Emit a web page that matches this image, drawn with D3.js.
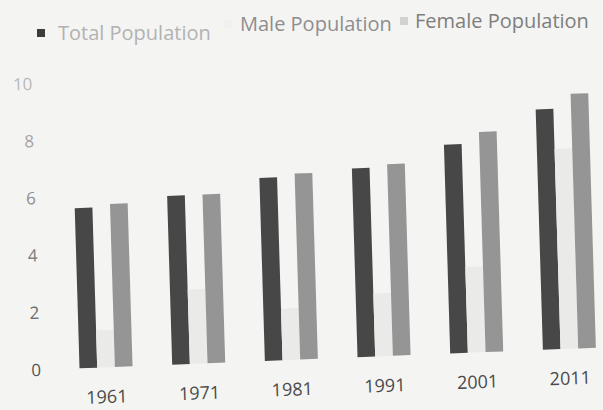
<!doctype html>
<html>
<head>
<meta charset="utf-8">
<style>
	body { margin: 0; background: #f4f4f2; }
	svg { display: block; font-family: "Open Sans", sans-serif; }
</style>
</head>
<body>
	<div class="chart"></div>

	<script src="https://d3js.org/d3.v7.min.js"></script>
	<script>
		let years = ["1961", "1971", "1981", "1991", "2001", "2011"];
		let seriesNames = ["Total Population", "Male Population", "Female Population"];
		let totalPop = [5.6, 5.9, 6.4, 6.6, 7.3, 8.4];
		let malePop = [1.3, 2.6, 1.8, 2.2, 3.0, 7.0];
		let femalePop = [5.7, 5.9, 6.5, 6.7, 7.7, 8.9];
		let yTicks = [0, 2, 4, 6, 8, 10];

		let width = 603,
			height = 410;

		let colors = {
			"Total Population": "#474747",
			"Male Population": "#eaeae8",
			"Female Population": "#959595"
		};
		let legendText = {
			"Total Population": "#b2b2b2",
			"Male Population": "#8e8e8e",
			"Female Population": "#7e7e7e"
		};
		let legendMarker = {
			"Total Population": "#3c3c3c",
			"Male Population": "#f0f0ee",
			"Female Population": "#d2d2d2"
		};

		let rows = years.map((y, i) => ({
			year: y,
			values: [totalPop[i], malePop[i], femalePop[i]]
		}));

		let svg = d3.select(".chart")
			.append("svg")
			.attr("width", width)
			.attr("height", height);

		svg.append("rect")
			.attr("width", width)
			.attr("height", height)
			.attr("fill", "#f4f4f2");

		// the scanned page is tilted and a bit skewed: baseline rises to the right,
		// verticals lean to the left at the top
		let slopeY = -0.040, slopeX = 0.030, px = 88, py = 368;
		let g = svg.append("g")
			.attr("transform", "matrix(1," + slopeY + "," + slopeX + ",1," +
				(-slopeX * py) + "," + (-slopeY * px) + ")");

		let scaleY = d3.scaleLinear()
			.domain([0, 10])
			.range([368, 82]);

		let scaleX = d3.scaleBand()
			.domain(years)
			.range([59.7, 615.7])
			.paddingInner(0.428)
			.paddingOuter(0.214);

		let scaleS = d3.scaleBand()
			.domain(seriesNames)
			.range([0, scaleX.bandwidth()]);

		let tickColor = d3.scaleLinear()
			.domain([0, 10])
			.range(["#555555", "#b8b8b8"]);

		// y axis labels only, no lines
		let yAxis = d3.axisLeft(scaleY)
			.tickValues(yTicks)
			.tickSize(0)
			.tickPadding(0);

		let yg = g.append("g")
			.attr("transform", "translate(41,0)")
			.call(yAxis);
		yg.select(".domain").remove();
		yg.selectAll("text")
			.attr("font-size", 17)
			.attr("font-family", "Open Sans, sans-serif")
			.attr("fill", d => tickColor(d));

		let xAxis = d3.axisBottom(scaleX)
			.tickSize(0)
			.tickPadding(23);

		let xg = g.append("g")
			.attr("transform", "translate(0," + scaleY(0) + ")")
			.call(xAxis);
		xg.select(".domain").remove();
		xg.selectAll("text")
			.attr("font-size", 18)
			.attr("font-family", "Open Sans, sans-serif")
			.attr("fill", "#4a4a4a");

		// bars
		let groups = g.append("g")
			.selectAll("g")
			.data(rows)
			.join("g")
			.attr("transform", d => "translate(" + scaleX(d.year) + ",0)");

		groups.selectAll("rect")
			.data(d => d.values.map((v, i) => ({ name: seriesNames[i], value: v })))
			.join("rect")
			.attr("x", d => scaleS(d.name))
			.attr("width", scaleS.bandwidth())
			.attr("y", d => scaleY(d.value))
			.attr("height", d => scaleY(0) - scaleY(d.value))
			.attr("fill", d => colors[d.name]);

		// legend (sits on its own, slightly uneven like the scan)
		let legendMarkX = [37, 224, 400],
			legendTextX = [58, 240, 415],
			legendY = [33, 24, 21];

		let legend = svg.append("g")
			.selectAll("g")
			.data(seriesNames)
			.join("g")
			.attr("transform", (d, i) => "translate(0," + legendY[i] + ")");

		legend.append("rect")
			.attr("x", (d, i) => legendMarkX[i])
			.attr("y", -4)
			.attr("width", 8)
			.attr("height", 8)
			.attr("fill", d => legendMarker[d]);

		legend.append("text")
			.attr("x", (d, i) => legendTextX[i])
			.attr("dy", "0.35em")
			.attr("font-size", 20)
			.attr("fill", d => legendText[d])
			.text(d => d);
	</script>
</body>
</html>
